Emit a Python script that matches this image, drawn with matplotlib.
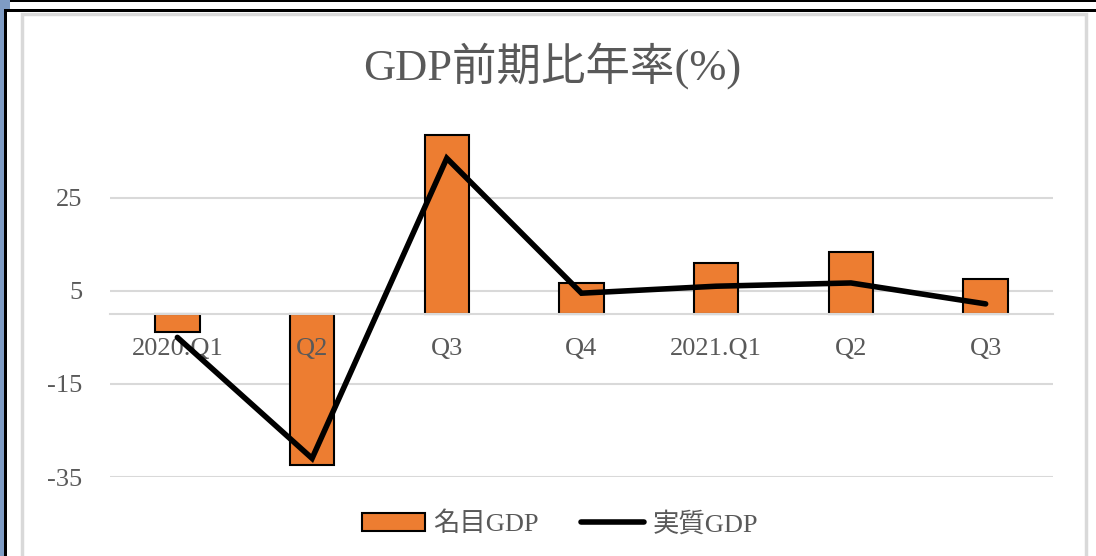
import matplotlib.pyplot as plt
from matplotlib.patches import Rectangle, Patch
from matplotlib.lines import Line2D

# data
quarters = ['2020.Q1', 'Q2', 'Q3', 'Q4', '2021.Q1', 'Q2', 'Q3']
nominal_gdp = [-3.8, -32.5, 38.5, 6.7, 11.0, 13.3, 7.5]
real_gdp = [-5.0, -31.0, 33.5, 4.5, 6.0, 6.7, 2.2]
yticks = [25, 5, -15, -35]

W, H = 1096, 556
fonts = ['Liberation Serif', 'Noto Sans CJK JP', 'DejaVu Sans']
plt.rcParams['font.family'] = fonts
plt.rcParams['axes.unicode_minus'] = False
gray = '#595959'
orange = '#ED7D31'

fig = plt.figure(figsize=(W / 100, H / 100), dpi=100)

# window frame bits from the screenshot
def px_rect(x0, y0, x1, y1, **kw):
    fig.add_artist(Rectangle((x0 / W, 1 - y1 / H), (x1 - x0) / W, (y1 - y0) / H,
                             transform=fig.transFigure, **kw))

px_rect(0, 0, 4, H, color='#7F9CC4', lw=0)
px_rect(0, 0, 10, 10, color='#7F9CC4', lw=0)
px_rect(10, 0, W, 2, color='black', lw=0)
px_rect(4, 9, W, 12, color='black', lw=0)
px_rect(4, 9, 7, H, color='black', lw=0)
px_rect(22, 14, 1086, H + 5, fill=False, edgecolor='#d9d9d9', lw=2.5)

ax = fig.add_axes([110 / W, 1 - 477 / H, 943 / W, 349 / H])
x = range(len(quarters))

for t in yticks:
    ax.axhline(t, color='#d9d9d9', lw=1.5, zorder=0)

ax.bar(x, nominal_gdp, width=0.33, color=orange, edgecolor='black', lw=1.5,
       zorder=1, label='名目GDP')
ax.plot(x, real_gdp, color='black', lw=4, solid_capstyle='round',
        solid_joinstyle='miter', zorder=3, label='実質GDP')

ax.set_xlim(-0.5, len(quarters) - 0.5)
ax.set_ylim(-35, 40)
ax.set_yticks(yticks)
ax.set_xticks(list(x))
ax.set_xticklabels(quarters)

for s in ['top', 'right', 'left']:
    ax.spines[s].set_visible(False)
ax.spines['bottom'].set_position(('data', 0))
ax.spines['bottom'].set_color('#d9d9d9')
ax.spines['bottom'].set_linewidth(1.5)
ax.tick_params(axis='both', length=0, labelsize=19, labelcolor=gray)
ax.tick_params(axis='x', pad=17)
ax.tick_params(axis='y', pad=20)

fig.text(552 / W, 1 - 66 / H, 'GDP前期比年率(%)', ha='center', va='center',
         fontsize=32, color=gray)

handles = [Patch(facecolor=orange, edgecolor='black', lw=1.5),
           Line2D([0], [0], color='black', lw=4, solid_capstyle='round')]
fig.legend(handles, ['名目GDP', '実質GDP'], loc='center', ncol=2,
           bbox_to_anchor=(560 / W, 1 - 524 / H), frameon=False,
           fontsize=19, labelcolor=gray, handlelength=2.4, handletextpad=0.3,
           columnspacing=1.6)

fig.savefig('out.png', dpi=100)
